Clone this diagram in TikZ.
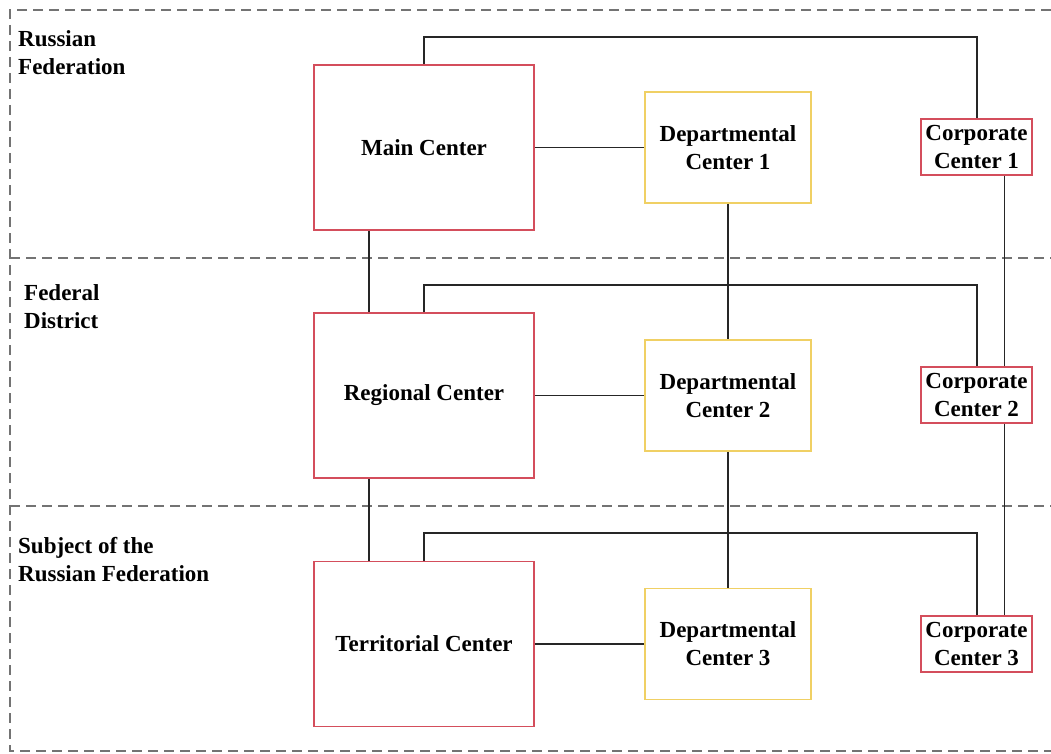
\documentclass[tikz,border=0pt]{standalone}
\usepackage{fontspec}
\setmainfont{Liberation Serif}
\definecolor{boxred}{RGB}{212,78,92}
\definecolor{boxyellow}{RGB}{240,208,100}
\begin{document}
\begin{tikzpicture}[x=1pt,y=-1pt,
  font=\fontsize{23}{28}\selectfont\bfseries,
  redbox/.style={draw=boxred, line width=1.6pt, fill=white, align=center, inner sep=0pt},
  yelbox/.style={draw=boxyellow, line width=1.6pt, fill=white, align=center, inner sep=0pt},
  link/.style={draw=black!85, line width=1.6pt},
  zone/.style={draw=black!55, line width=2pt, dash pattern=on 10pt off 6pt},
  lbl/.style={anchor=north west, align=left, inner sep=0pt}]
\useasboundingbox (0,0) rectangle (1051,754);

% level separators and frame
\draw[zone] (1051,10) -- (10,10) -- (10,751) -- (1051,751);
\draw[zone] (10,258) -- (1051,258);
\draw[zone] (10,506) -- (1051,506);

% level names
\node[lbl] (lv1) at (18,30) {Russian\\Federation};
\node[lbl] (lv2) at (24,284) {Federal\\District};
\node[lbl] (lv3) at (18,537) {Subject of the\\Russian Federation};

% centres
\node[redbox, minimum width=220pt, minimum height=165pt] (main) at (424,147.5) {Main Center};
\node[redbox, minimum width=220pt, minimum height=165pt] (reg) at (424,395.5) {Regional Center};
\node[redbox, minimum width=220pt, minimum height=165pt] (ter) at (424,644) {Territorial Center};

\node[yelbox, minimum width=166pt, minimum height=111pt] (d1) at (728,147.5) {Departmental\\Center 1};
\node[yelbox, minimum width=166pt, minimum height=111pt] (d2) at (728,395.5) {Departmental\\Center 2};
\node[yelbox, minimum width=166pt, minimum height=111pt] (d3) at (728,644) {Departmental\\Center 3};

\node[redbox, minimum width=111pt, minimum height=56pt] (c1) at (976.5,147) {Corporate\\Center 1};
\node[redbox, minimum width=111pt, minimum height=56pt] (c2) at (976.5,395) {Corporate\\Center 2};
\node[redbox, minimum width=111pt, minimum height=56pt] (c3) at (976.5,644) {Corporate\\Center 3};

% horizontal links between centres of one level
\draw[link] (main.east) -- (d1.west);
\draw[link] (reg.east) -- (d2.west);
\draw[link] (ter.east) -- (d3.west);

% vertical links between levels
\draw[link] ([xshift=-55pt]main.south) -- ([xshift=-55pt]reg.north);
\draw[link] ([xshift=-55pt]reg.south) -- ([xshift=-55pt]ter.north);
\draw[link] (d1.south) -- (d2.north);
\draw[link] (d2.south) -- (d3.north);
\draw[link] ([xshift=28pt]c1.south) -- ([xshift=28pt]c2.north);
\draw[link] ([xshift=28pt]c2.south) -- ([xshift=28pt]c3.north);

% links to corporate centres
\draw[link] (main.north) |- (977,37) -- ([xshift=0.5pt]c1.north);
\draw[link] (reg.north) |- (977,285) -- ([xshift=0.5pt]c2.north);
\draw[link] (ter.north) |- (977,533) -- ([xshift=0.5pt]c3.north);
\end{tikzpicture}
\end{document}
